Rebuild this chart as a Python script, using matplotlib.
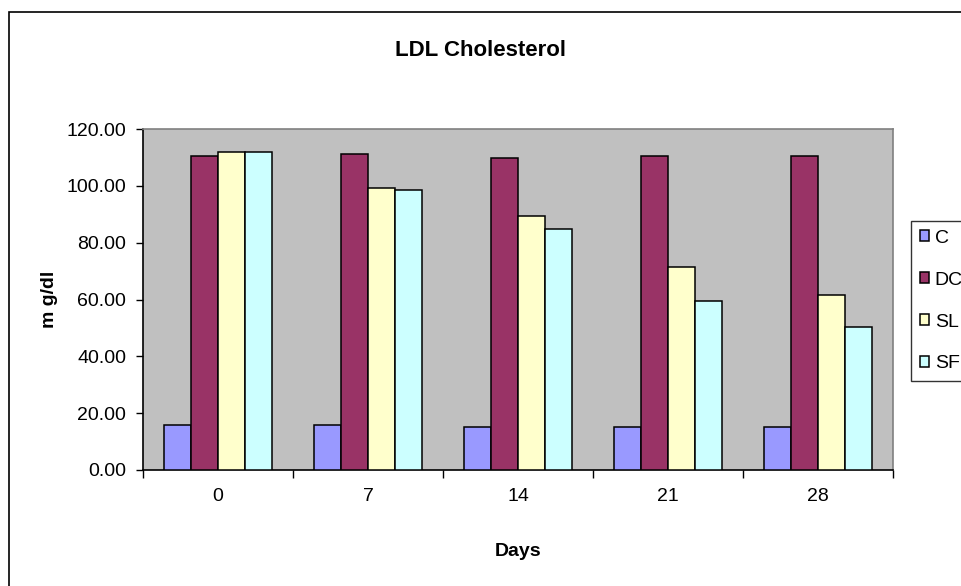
import numpy as np
import matplotlib.pyplot as plt
from matplotlib.patches import Rectangle

plt.rcParams['font.family'] = ['Liberation Sans', 'DejaVu Sans']

days = ['0', '7', '14', '21', '28']
groups = ['C', 'DC', 'SL', 'SF']
C = [15.8, 15.8, 15.2, 15.2, 15.2]
DC = [110.6, 111.3, 109.9, 110.6, 110.6]
SL = [111.9, 99.2, 89.4, 71.5, 61.6]
SF = [111.9, 98.6, 84.8, 59.5, 50.3]
colors = ['#9999FF', '#993366', '#FFFFCC', '#CCFFFF']

fig = plt.figure(figsize=(9.62, 5.86), dpi=100)
ax = fig.add_axes([143/962, 1-470/586, 750/962, 341/586])
ax.set_facecolor('#C0C0C0')

x = np.arange(len(days))
w = 0.18
series = [C, DC, SL, SF]
for i, (vals, col, name) in enumerate(zip(series, colors, groups)):
    ax.bar(x + (i - 1.5) * w, vals, w, color=col, edgecolor='black',
           linewidth=1.1, label=name, zorder=3)

ax.set_xlim(-0.5, len(days) - 0.5)
ax.set_ylim(0, 120)
ax.set_yticks(np.arange(0, 121, 20))
ax.set_yticklabels(['%.2f' % v for v in np.arange(0, 121, 20)])
ax.set_xticks(x)
ax.set_xticklabels(days)
ax.set_xticks(np.arange(-0.5, len(days), 1), minor=True)
ax.tick_params(axis='x', which='major', length=0, pad=13, labelsize=14)
ax.tick_params(axis='x', which='minor', length=6, width=1, direction='out')
ax.tick_params(axis='y', length=5, width=1, pad=7, labelsize=14)

for s in ['top', 'right']:
    ax.spines[s].set_color('#808080')
    ax.spines[s].set_linewidth(1.2)
for s in ['left', 'bottom']:
    ax.spines[s].set_color('black')
    ax.spines[s].set_linewidth(1.2)

fig.text(481/962, 1-50/586, 'LDL Cholesterol', fontsize=16, fontweight='bold',
         ha='center', va='center')
ax.set_xlabel('Days', fontsize=14, fontweight='bold', labelpad=27)
ax.set_ylabel('m g/dl', fontsize=14, fontweight='bold', labelpad=6)

leg = fig.legend(loc='upper left', bbox_to_anchor=(911/962, 1-221/586),
                 fontsize=14, frameon=True, fancybox=False, edgecolor='black',
                 handlelength=0.47, handleheight=0.47, handletextpad=0.3,
                 labelspacing=1.28, borderpad=0.45, borderaxespad=0)
leg.get_frame().set_linewidth(1.0)

# outer chart border
fig.patches.append(Rectangle((9/962, -0.1), 1.2, 1.1 - 12/586, fill=False,
                             edgecolor='black', linewidth=1.2,
                             transform=fig.transFigure, figure=fig))

fig.savefig('out.png', dpi=100)
